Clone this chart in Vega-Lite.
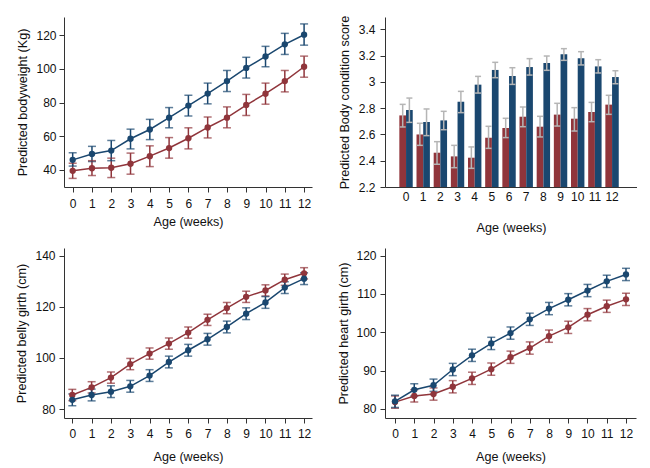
{
"$schema": "https://vega.github.io/schema/vega-lite/v6.json",
"background": "white",
"padding": {"left": 15, "top": 15, "right": 0, "bottom": 10},
"columns": 2,
"spacing": {"row": 61, "column": 73},
"bounds": "flush",
"datasets": {
"bw": [
{"week":0,"group":"Group 1","mean":39.5,"lo":35,"hi":44},
{"week":1,"group":"Group 1","mean":41,"lo":36.7,"hi":45.5},
{"week":2,"group":"Group 1","mean":41.3,"lo":35.5,"hi":47},
{"week":3,"group":"Group 1","mean":43.7,"lo":37.5,"hi":50},
{"week":4,"group":"Group 1","mean":48.2,"lo":42,"hi":54.3},
{"week":5,"group":"Group 1","mean":53,"lo":47,"hi":59.2},
{"week":6,"group":"Group 1","mean":58.8,"lo":52.5,"hi":65},
{"week":7,"group":"Group 1","mean":65.2,"lo":59,"hi":71.4},
{"week":8,"group":"Group 1","mean":71,"lo":65,"hi":77.4},
{"week":9,"group":"Group 1","mean":78.5,"lo":72.3,"hi":84.8},
{"week":10,"group":"Group 1","mean":85.2,"lo":79,"hi":91.5},
{"week":11,"group":"Group 1","mean":92.7,"lo":86.3,"hi":99},
{"week":12,"group":"Group 1","mean":101.2,"lo":95,"hi":107.5},
{"week":0,"group":"Group 2","mean":46,"lo":42.3,"hi":50.2},
{"week":1,"group":"Group 2","mean":49.5,"lo":45,"hi":54},
{"week":2,"group":"Group 2","mean":51.5,"lo":45.5,"hi":57.5},
{"week":3,"group":"Group 2","mean":58.5,"lo":52.5,"hi":64.2},
{"week":4,"group":"Group 2","mean":64,"lo":58,"hi":70},
{"week":5,"group":"Group 2","mean":71,"lo":65,"hi":77},
{"week":6,"group":"Group 2","mean":78.2,"lo":72,"hi":84.3},
{"week":7,"group":"Group 2","mean":85.3,"lo":79.2,"hi":91.5},
{"week":8,"group":"Group 2","mean":92.7,"lo":86.5,"hi":99},
{"week":9,"group":"Group 2","mean":100.5,"lo":94.5,"hi":106.8},
{"week":10,"group":"Group 2","mean":107.3,"lo":101.2,"hi":113.3},
{"week":11,"group":"Group 2","mean":114.5,"lo":108.5,"hi":121},
{"week":12,"group":"Group 2","mean":120.2,"lo":114,"hi":126.6}
],
"bcs": [
{"week":0,"group":"Group 1","mean":2.745,"lo":2.657,"hi":2.829},
{"week":1,"group":"Group 1","mean":2.6,"lo":2.517,"hi":2.685},
{"week":2,"group":"Group 1","mean":2.461,"lo":2.373,"hi":2.545},
{"week":3,"group":"Group 1","mean":2.433,"lo":2.347,"hi":2.517},
{"week":4,"group":"Group 1","mean":2.423,"lo":2.342,"hi":2.505},
{"week":5,"group":"Group 1","mean":2.575,"lo":2.494,"hi":2.662},
{"week":6,"group":"Group 1","mean":2.649,"lo":2.576,"hi":2.723},
{"week":7,"group":"Group 1","mean":2.735,"lo":2.659,"hi":2.809},
{"week":8,"group":"Group 1","mean":2.659,"lo":2.581,"hi":2.738},
{"week":9,"group":"Group 1","mean":2.751,"lo":2.664,"hi":2.837},
{"week":10,"group":"Group 1","mean":2.72,"lo":2.626,"hi":2.804},
{"week":11,"group":"Group 1","mean":2.771,"lo":2.697,"hi":2.844},
{"week":12,"group":"Group 1","mean":2.827,"lo":2.753,"hi":2.898},
{"week":0,"group":"Group 2","mean":2.786,"lo":2.692,"hi":2.877},
{"week":1,"group":"Group 2","mean":2.695,"lo":2.591,"hi":2.794},
{"week":2,"group":"Group 2","mean":2.707,"lo":2.636,"hi":2.776},
{"week":3,"group":"Group 2","mean":2.849,"lo":2.766,"hi":2.928},
{"week":4,"group":"Group 2","mean":2.979,"lo":2.915,"hi":3.042},
{"week":5,"group":"Group 2","mean":3.091,"lo":3.032,"hi":3.149},
{"week":6,"group":"Group 2","mean":3.045,"lo":2.981,"hi":3.108},
{"week":7,"group":"Group 2","mean":3.113,"lo":3.052,"hi":3.177},
{"week":8,"group":"Group 2","mean":3.144,"lo":3.088,"hi":3.197},
{"week":9,"group":"Group 2","mean":3.21,"lo":3.164,"hi":3.253},
{"week":10,"group":"Group 2","mean":3.18,"lo":3.129,"hi":3.23},
{"week":11,"group":"Group 2","mean":3.118,"lo":3.068,"hi":3.169},
{"week":12,"group":"Group 2","mean":3.037,"lo":2.986,"hi":3.085}
],
"belly": [
{"week":0,"group":"Group 1","mean":85.5,"lo":83.3,"hi":87.7},
{"week":1,"group":"Group 1","mean":88.5,"lo":86.3,"hi":90.7},
{"week":2,"group":"Group 1","mean":92.3,"lo":90.1,"hi":94.5},
{"week":3,"group":"Group 1","mean":97.6,"lo":95.4,"hi":99.8},
{"week":4,"group":"Group 1","mean":101.7,"lo":99.5,"hi":103.9},
{"week":5,"group":"Group 1","mean":105.6,"lo":103.4,"hi":107.8},
{"week":6,"group":"Group 1","mean":109.9,"lo":107.7,"hi":112.1},
{"week":7,"group":"Group 1","mean":114.9,"lo":112.7,"hi":117.1},
{"week":8,"group":"Group 1","mean":119.5,"lo":117.3,"hi":121.7},
{"week":9,"group":"Group 1","mean":123.9,"lo":121.7,"hi":126.1},
{"week":10,"group":"Group 1","mean":126.4,"lo":124.2,"hi":128.6},
{"week":11,"group":"Group 1","mean":130.6,"lo":128.4,"hi":132.8},
{"week":12,"group":"Group 1","mean":133.1,"lo":130.9,"hi":135.3},
{"week":0,"group":"Group 2","mean":83.6,"lo":81.3,"hi":85.9},
{"week":1,"group":"Group 2","mean":85.5,"lo":83.2,"hi":87.8},
{"week":2,"group":"Group 2","mean":86.8,"lo":84.5,"hi":89.1},
{"week":3,"group":"Group 2","mean":88.9,"lo":86.6,"hi":91.2},
{"week":4,"group":"Group 2","mean":93.1,"lo":90.8,"hi":95.4},
{"week":5,"group":"Group 2","mean":98.4,"lo":96.1,"hi":100.7},
{"week":6,"group":"Group 2","mean":103,"lo":100.7,"hi":105.3},
{"week":7,"group":"Group 2","mean":107.3,"lo":105,"hi":109.6},
{"week":8,"group":"Group 2","mean":112.1,"lo":109.8,"hi":114.4},
{"week":9,"group":"Group 2","mean":117.3,"lo":115,"hi":119.6},
{"week":10,"group":"Group 2","mean":121.7,"lo":119.4,"hi":124},
{"week":11,"group":"Group 2","mean":127.5,"lo":125.2,"hi":129.8},
{"week":12,"group":"Group 2","mean":131,"lo":128.7,"hi":133.3}
],
"heart": [
{"week":0,"group":"Group 1","mean":81.8,"lo":80.2,"hi":83.4},
{"week":1,"group":"Group 1","mean":83.4,"lo":81.8,"hi":85},
{"week":2,"group":"Group 1","mean":83.9,"lo":82.3,"hi":85.5},
{"week":3,"group":"Group 1","mean":85.8,"lo":84.2,"hi":87.4},
{"week":4,"group":"Group 1","mean":88,"lo":86.4,"hi":89.6},
{"week":5,"group":"Group 1","mean":90.4,"lo":88.8,"hi":92},
{"week":6,"group":"Group 1","mean":93.5,"lo":91.9,"hi":95.1},
{"week":7,"group":"Group 1","mean":95.9,"lo":94.3,"hi":97.5},
{"week":8,"group":"Group 1","mean":99,"lo":97.4,"hi":100.6},
{"week":9,"group":"Group 1","mean":101.3,"lo":99.7,"hi":102.9},
{"week":10,"group":"Group 1","mean":104.6,"lo":103,"hi":106.2},
{"week":11,"group":"Group 1","mean":106.8,"lo":105.2,"hi":108.4},
{"week":12,"group":"Group 1","mean":108.6,"lo":107,"hi":110.2},
{"week":0,"group":"Group 2","mean":82,"lo":80.4,"hi":83.6},
{"week":1,"group":"Group 2","mean":85,"lo":83.4,"hi":86.6},
{"week":2,"group":"Group 2","mean":86.2,"lo":84.6,"hi":87.8},
{"week":3,"group":"Group 2","mean":90.3,"lo":88.7,"hi":91.9},
{"week":4,"group":"Group 2","mean":94,"lo":92.4,"hi":95.6},
{"week":5,"group":"Group 2","mean":97.1,"lo":95.5,"hi":98.7},
{"week":6,"group":"Group 2","mean":99.8,"lo":98.2,"hi":101.4},
{"week":7,"group":"Group 2","mean":103.4,"lo":101.8,"hi":105},
{"week":8,"group":"Group 2","mean":106.2,"lo":104.6,"hi":107.8},
{"week":9,"group":"Group 2","mean":108.5,"lo":106.9,"hi":110.1},
{"week":10,"group":"Group 2","mean":110.9,"lo":109.3,"hi":112.5},
{"week":11,"group":"Group 2","mean":113.3,"lo":111.7,"hi":114.9},
{"week":12,"group":"Group 2","mean":115.1,"lo":113.5,"hi":116.7}
]
},
"concat": [
{
"data": {"name": "bw"},
"width": 248, "height": 170,
"encoding": {
"x": {"field": "week", "type": "quantitative", "scale": {"domain": [-0.45, 12.41], "nice": false, "zero": false}, "axis": {"values": [0,1,2,3,4,5,6,7,8,9,10,11,12], "format": "d", "title": "Age (weeks)", "labelPadding": 6, "titlePadding": 6}},
"color": {"field": "group", "type": "nominal", "scale": {"domain": ["Group 1", "Group 2"], "range": ["#90353b", "#1a476f"]}, "legend": null}
},
"layer": [
{"mark": {"type": "rule", "strokeWidth": 1.5}, "encoding": {"y": {"field": "lo", "type": "quantitative", "scale": {"domain": [29.9, 130.7], "nice": false, "zero": false}, "axis": {"values": [40,60,80,100,120], "title": "Predicted bodyweight (Kg)", "labelPadding": 3, "titlePadding": 6}}, "y2": {"field": "hi"}}},
{"mark": {"type": "tick", "orient": "horizontal", "size": 8, "thickness": 1.5}, "encoding": {"y": {"field": "lo", "type": "quantitative", "scale": {"domain": [29.9, 130.7], "nice": false, "zero": false}, "axis": {"values": [40,60,80,100,120], "title": "Predicted bodyweight (Kg)", "labelPadding": 3, "titlePadding": 6}}}},
{"mark": {"type": "tick", "orient": "horizontal", "size": 8, "thickness": 1.5}, "encoding": {"y": {"field": "hi", "type": "quantitative", "scale": {"domain": [29.9, 130.7], "nice": false, "zero": false}, "axis": {"values": [40,60,80,100,120], "title": "Predicted bodyweight (Kg)", "labelPadding": 3, "titlePadding": 6}}}},
{"mark": {"type": "line", "strokeWidth": 1.5}, "encoding": {"y": {"field": "mean", "type": "quantitative", "scale": {"domain": [29.9, 130.7], "nice": false, "zero": false}, "axis": {"values": [40,60,80,100,120], "title": "Predicted bodyweight (Kg)", "labelPadding": 3, "titlePadding": 6}}}},
{"mark": {"type": "point", "filled": true, "size": 40, "opacity": 1}, "encoding": {"y": {"field": "mean", "type": "quantitative", "scale": {"domain": [29.9, 130.7], "nice": false, "zero": false}, "axis": {"values": [40,60,80,100,120], "title": "Predicted bodyweight (Kg)", "labelPadding": 3, "titlePadding": 6}}}}
]
},
{
"data": {"name": "bcs"},
"width": 252, "height": 170,
"encoding": {
"x": {"field": "week", "type": "ordinal", "scale": {"paddingInner": 0.22, "paddingOuter": 0.949, "align": 0.44}, "axis": {"title": "Age (weeks)", "labelAngle": 0, "ticks": false, "labelPadding": 4.5, "titlePadding": 19}},
"xOffset": {"field": "group", "type": "nominal", "scale": {"domain": ["Group 1", "Group 2"], "paddingInner": 0, "paddingOuter": 0}}
},
"layer": [
{"mark": {"type": "bar"}, "encoding": {"y": {"field": "mean", "type": "quantitative", "scale": {"domain": [2.2, 3.494], "nice": false, "zero": false}, "axis": {"values": [2.2,2.4,2.6,2.8,3,3.2,3.4], "format": "~g", "title": "Predicted Body condition score", "labelPadding": 5, "titlePadding": 7}}, "y2": {"datum": 2.2}, "color": {"field": "group", "type": "nominal", "scale": {"domain": ["Group 1", "Group 2"], "range": ["#90353b", "#1a476f"]}, "legend": null}}},
{"mark": {"type": "rule", "color": "#b5b5b5", "strokeWidth": 1.5}, "encoding": {"y": {"field": "lo", "type": "quantitative", "scale": {"domain": [2.2, 3.494], "nice": false, "zero": false}, "axis": {"values": [2.2,2.4,2.6,2.8,3,3.2,3.4], "format": "~g", "title": "Predicted Body condition score", "labelPadding": 5, "titlePadding": 7}}, "y2": {"field": "hi"}}},
{"mark": {"type": "tick", "color": "#b5b5b5", "orient": "horizontal", "size": 6, "thickness": 1.5, "opacity": 1}, "encoding": {"y": {"field": "lo", "type": "quantitative", "scale": {"domain": [2.2, 3.494], "nice": false, "zero": false}, "axis": {"values": [2.2,2.4,2.6,2.8,3,3.2,3.4], "format": "~g", "title": "Predicted Body condition score", "labelPadding": 5, "titlePadding": 7}}}},
{"mark": {"type": "tick", "color": "#b5b5b5", "orient": "horizontal", "size": 6, "thickness": 1.5, "opacity": 1}, "encoding": {"y": {"field": "hi", "type": "quantitative", "scale": {"domain": [2.2, 3.494], "nice": false, "zero": false}, "axis": {"values": [2.2,2.4,2.6,2.8,3,3.2,3.4], "format": "~g", "title": "Predicted Body condition score", "labelPadding": 5, "titlePadding": 7}}}}
]
},
{
"data": {"name": "belly"},
"width": 248, "height": 170,
"encoding": {
"x": {"field": "week", "type": "quantitative", "scale": {"domain": [-0.43, 12.41], "nice": false, "zero": false}, "axis": {"values": [0,1,2,3,4,5,6,7,8,9,10,11,12], "format": "d", "title": "Age (weeks)", "labelPadding": 5, "titlePadding": 11}},
"color": {"field": "group", "type": "nominal", "scale": {"domain": ["Group 1", "Group 2"], "range": ["#90353b", "#1a476f"]}, "legend": null}
},
"layer": [
{"mark": {"type": "rule", "strokeWidth": 1.5}, "encoding": {"y": {"field": "lo", "type": "quantitative", "scale": {"domain": [76.5, 143], "nice": false, "zero": false}, "axis": {"values": [80,100,120,140], "title": "Predicted belly girth (cm)", "labelPadding": 4, "titlePadding": 6}}, "y2": {"field": "hi"}}},
{"mark": {"type": "tick", "orient": "horizontal", "size": 8, "thickness": 1.5}, "encoding": {"y": {"field": "lo", "type": "quantitative", "scale": {"domain": [76.5, 143], "nice": false, "zero": false}, "axis": {"values": [80,100,120,140], "title": "Predicted belly girth (cm)", "labelPadding": 4, "titlePadding": 6}}}},
{"mark": {"type": "tick", "orient": "horizontal", "size": 8, "thickness": 1.5}, "encoding": {"y": {"field": "hi", "type": "quantitative", "scale": {"domain": [76.5, 143], "nice": false, "zero": false}, "axis": {"values": [80,100,120,140], "title": "Predicted belly girth (cm)", "labelPadding": 4, "titlePadding": 6}}}},
{"mark": {"type": "line", "strokeWidth": 1.5}, "encoding": {"y": {"field": "mean", "type": "quantitative", "scale": {"domain": [76.5, 143], "nice": false, "zero": false}, "axis": {"values": [80,100,120,140], "title": "Predicted belly girth (cm)", "labelPadding": 4, "titlePadding": 6}}}},
{"mark": {"type": "point", "filled": true, "size": 40, "opacity": 1}, "encoding": {"y": {"field": "mean", "type": "quantitative", "scale": {"domain": [76.5, 143], "nice": false, "zero": false}, "axis": {"values": [80,100,120,140], "title": "Predicted belly girth (cm)", "labelPadding": 4, "titlePadding": 6}}}}
]
},
{
"data": {"name": "heart"},
"width": 251, "height": 170,
"encoding": {
"x": {"field": "week", "type": "quantitative", "scale": {"domain": [-0.52, 12.52], "nice": false, "zero": false}, "axis": {"values": [0,1,2,3,4,5,6,7,8,9,10,11,12], "format": "d", "title": "Age (weeks)", "labelPadding": 5, "titlePadding": 11}},
"color": {"field": "group", "type": "nominal", "scale": {"domain": ["Group 1", "Group 2"], "range": ["#90353b", "#1a476f"]}, "legend": null}
},
"layer": [
{"mark": {"type": "rule", "strokeWidth": 1.5}, "encoding": {"y": {"field": "lo", "type": "quantitative", "scale": {"domain": [77.65, 122], "nice": false, "zero": false}, "axis": {"values": [80,90,100,110,120], "title": "Predicted heart girth (cm)", "labelPadding": 4, "titlePadding": 5}}, "y2": {"field": "hi"}}},
{"mark": {"type": "tick", "orient": "horizontal", "size": 8, "thickness": 1.5}, "encoding": {"y": {"field": "lo", "type": "quantitative", "scale": {"domain": [77.65, 122], "nice": false, "zero": false}, "axis": {"values": [80,90,100,110,120], "title": "Predicted heart girth (cm)", "labelPadding": 4, "titlePadding": 5}}}},
{"mark": {"type": "tick", "orient": "horizontal", "size": 8, "thickness": 1.5}, "encoding": {"y": {"field": "hi", "type": "quantitative", "scale": {"domain": [77.65, 122], "nice": false, "zero": false}, "axis": {"values": [80,90,100,110,120], "title": "Predicted heart girth (cm)", "labelPadding": 4, "titlePadding": 5}}}},
{"mark": {"type": "line", "strokeWidth": 1.5}, "encoding": {"y": {"field": "mean", "type": "quantitative", "scale": {"domain": [77.65, 122], "nice": false, "zero": false}, "axis": {"values": [80,90,100,110,120], "title": "Predicted heart girth (cm)", "labelPadding": 4, "titlePadding": 5}}}},
{"mark": {"type": "point", "filled": true, "size": 40, "opacity": 1}, "encoding": {"y": {"field": "mean", "type": "quantitative", "scale": {"domain": [77.65, 122], "nice": false, "zero": false}, "axis": {"values": [80,90,100,110,120], "title": "Predicted heart girth (cm)", "labelPadding": 4, "titlePadding": 5}}}}
]
}
],
"config": {
"view": {"stroke": null},
"font": "Liberation Sans",
"axis": {"grid": false, "domainColor": "#333333", "tickColor": "#333333", "labelColor": "#111111", "titleColor": "#111111", "labelFont": "Liberation Sans", "titleFont": "Liberation Sans", "labelFontSize": 12, "titleFontSize": 12.6, "titleFontWeight": "normal", "tickSize": 5, "domainWidth": 1, "tickWidth": 1}
}
}
